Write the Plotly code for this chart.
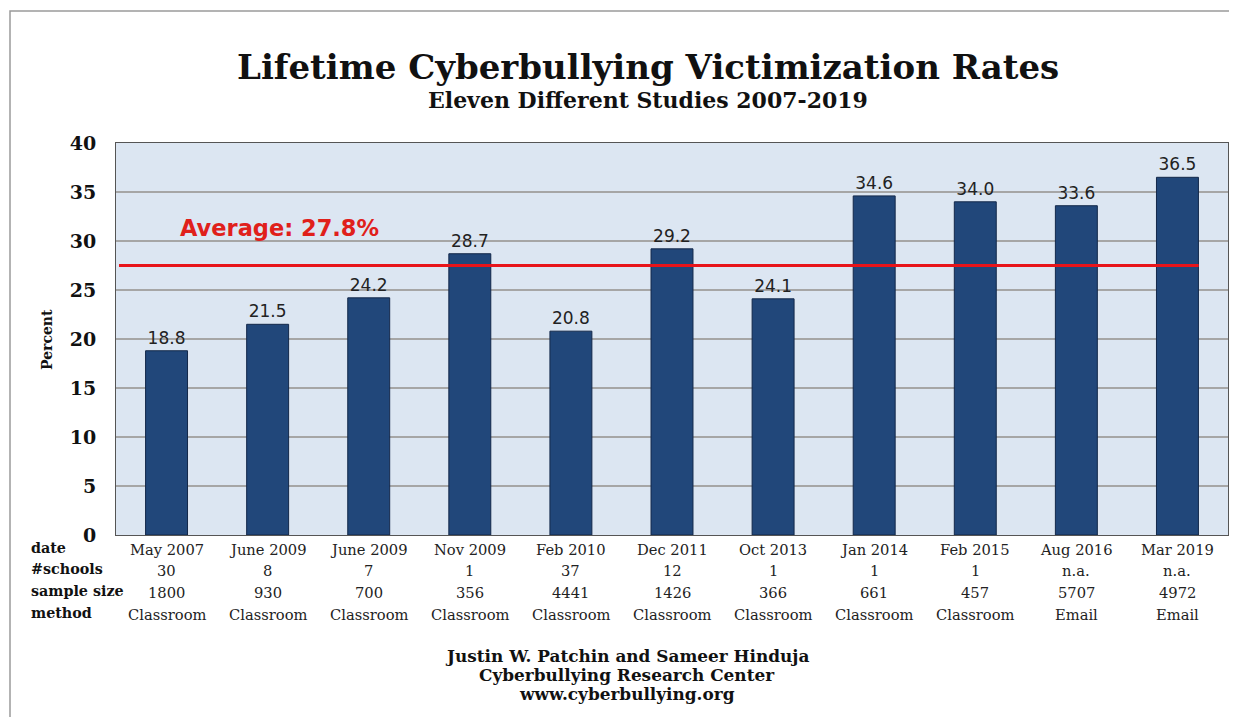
import plotly.graph_objects as go

dates = ["May 2007", "June 2009", "June 2009", "Nov 2009", "Feb 2010", "Dec 2011",
         "Oct 2013", "Jan 2014", "Feb 2015", "Aug 2016", "Mar 2019"]
rates = [18.8, 21.5, 24.2, 28.7, 20.8, 29.2, 24.1, 34.6, 34.0, 33.6, 36.5]
schools = ["30", "8", "7", "1", "37", "12", "1", "1", "1", "n.a.", "n.a."]
sample_sizes = ["1800", "930", "700", "356", "4441", "1426", "366", "661", "457", "5707", "4972"]
methods = ["Classroom"] * 9 + ["Email", "Email"]
row_labels = ["date", "#schools", "sample size", "method"]
average_line = 27.5
average_label = "Average: 27.8%"

OFF = 8  # page body margin
W, H = 1237 - OFF, 717 - OFF
L, R, T, B = 116, 1228, 143, 535  # plot area in window pixels
pw, ph = R - L, B - T

def px(x):
    return (x - L) / pw

def py(y):
    return (B - y) / ph

SERIF = "DejaVu Serif"
idx = list(range(len(dates)))

fig = go.Figure()
fig.add_trace(go.Bar(
    x=idx, y=rates, width=0.415,
    marker=dict(color="#21477A", line=dict(color="#13284A", width=1)),
    text=[f"{v:.1f}" for v in rates], textposition="outside",
    textfont=dict(family="DejaVu Sans", size=17, color="#222222"),
    cliponaxis=False,
))
fig.add_trace(go.Scatter(
    x=[-0.47, len(dates) - 1 + 0.21], y=[average_line, average_line], mode="lines",
    line=dict(color="#E8141A", width=3), hoverinfo="skip",
))

ann = []
ann.append(dict(x=px(178), y=py(228), xref="paper", yref="paper", text=f"<b>{average_label}</b>",
                showarrow=False, xanchor="left", yanchor="middle",
                font=dict(family="DejaVu Sans", size=22.5, color="#E0201B")))
rows = [dates, schools, sample_sizes, methods]
row_y = [549, 570, 592, 614]
for r, vals in enumerate(rows):
    for i, v in enumerate(vals):
        ann.append(dict(x=i, y=py(row_y[r]), xref="x", yref="paper", text=v, showarrow=False,
                        xanchor="center", yanchor="middle",
                        font=dict(family=SERIF, size=14.7, color="#222222")))
    ann.append(dict(x=px(29), y=py(row_y[r] - 1), xref="paper", yref="paper", text=f"<b>{row_labels[r]}</b>",
                    showarrow=False, xanchor="left", yanchor="middle",
                    font=dict(family=SERIF, size=14.3, color="#111111")))

ann.append(dict(x=px(648), y=py(67), xref="paper", yref="paper",
                text="<b>Lifetime Cyberbullying Victimization Rates</b>", showarrow=False,
                xanchor="center", yanchor="middle",
                font=dict(family=SERIF, size=34, color="#111111")))
ann.append(dict(x=px(648), y=py(100), xref="paper", yref="paper",
                text="<b>Eleven Different Studies 2007-2019</b>", showarrow=False,
                xanchor="center", yanchor="middle",
                font=dict(family=SERIF, size=22, color="#111111")))
for k, t in enumerate(["Justin W. Patchin and Sameer Hinduja", "Cyberbullying Research Center",
                       "www.cyberbullying.org"]):
    ann.append(dict(x=px(627), y=py(656 + 19 * k), xref="paper", yref="paper", text=f"<b>{t}</b>",
                    showarrow=False, xanchor="center", yanchor="middle",
                    font=dict(family=SERIF, size=16.9, color="#111111")))
ann.append(dict(x=px(47), y=py(340), xref="paper", yref="paper", text="<b>Percent</b>", showarrow=False,
                textangle=-90, xanchor="center", yanchor="middle",
                font=dict(family=SERIF, size=14, color="#111111")))

shapes = [dict(type="rect", xref="paper", yref="paper", x0=px(10), x1=px(1245), y0=py(730), y1=py(11),
               line=dict(color="#9A9A9A", width=1.5), fillcolor="rgba(0,0,0,0)", layer="below")]

fig.update_layout(
    width=W, height=H, margin=dict(l=L - OFF, r=1237 - R, t=T - OFF, b=717 - B),
    paper_bgcolor="white", plot_bgcolor="#DCE6F2", showlegend=False,
    annotations=ann, shapes=shapes,
    xaxis=dict(range=[-0.5, len(dates) - 0.5], showticklabels=False, showgrid=False, zeroline=False,
               showline=True, linecolor="#555555", linewidth=1, mirror=True, ticks=""),
    yaxis=dict(range=[0, 40], dtick=5, showgrid=True, gridcolor="#A6A6A6", gridwidth=1.5,
               zeroline=False, showline=True, linecolor="#555555", linewidth=1, mirror=True,
               tickfont=dict(family=SERIF, size=19, color="#111111"),
               tickprefix="<b>", ticksuffix="</b>", ticklabelstandoff=15, ticks=""),
)
fig.write_html("out.html")
